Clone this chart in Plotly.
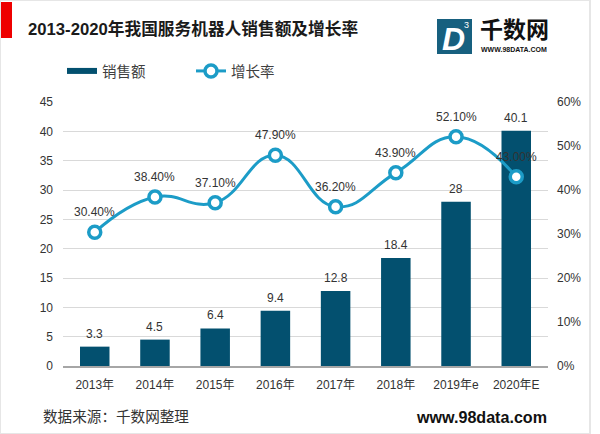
import plotly.graph_objects as go

# -- data -- #
years = ['2013年', '2014年', '2015年', '2016年', '2017年', '2018年', '2019年e', '2020年E']
sales = [3.3, 4.5, 6.4, 9.4, 12.8, 18.4, 28, 40.1]
growth = [30.4, 38.4, 37.1, 47.9, 36.2, 43.9, 52.1, 43.0]
sales_ticks = [0, 5, 10, 15, 20, 25, 30, 35, 40, 45]
growth_ticks = [0, 10, 20, 30, 40, 50, 60]

W = 600
H = 434
ML = 63
MR = 52
MT = 102
MB = 68
FONT = 'Liberation Sans, Noto Sans CJK SC'
BAR = '#03506f'
LINE = '#1c9cc7'
TXT = '#333333'

fig = go.Figure()

fig.add_trace(go.Bar(x=years, y=sales, name='销售额', showlegend=False,
                     marker=dict(color=BAR, line=dict(width=0)),
                     width=0.49))

# wide line swatch for the bar series
fig.add_trace(go.Scatter(x=[None], y=[None], name='销售额', mode='lines',
                         line=dict(color=BAR, width=6)))

fig.add_trace(go.Scatter(x=years, y=growth, name='增长率', yaxis='y2',
                         mode='lines+markers',
                         line=dict(color=LINE, width=3, shape='spline', smoothing=1.3),
                         marker=dict(size=12, color='white',
                                     line=dict(color=LINE, width=3.5))))

fig.update_layout(
    width=W, height=H,
    autosize=False,
    paper_bgcolor='white', plot_bgcolor='white',
    font=dict(family=FONT, size=12, color='#404040'),
    margin=dict(l=ML, r=MR, t=MT, b=MB, autoexpand=False),
    showlegend=True,
    legend=dict(orientation='h', x=-1/485, y=(MT-71+264)/264, xanchor='left', yanchor='middle',
                font=dict(size=14.5, color='#404040'),
                itemwidth=30, entrywidth=84, entrywidthmode='pixels',
                traceorder='normal', bgcolor='rgba(0,0,0,0)'),
    xaxis=dict(showgrid=False, showline=True, linecolor='#a6a6a6', linewidth=1.5,
               ticks='', ticklabelstandoff=7, tickfont=dict(size=12, color=TXT)),
    yaxis=dict(range=[0, 45], tickvals=sales_ticks, showgrid=True,
               gridcolor='#d9d9d9', zeroline=False, ticks='', ticklabelstandoff=9,
               tickfont=dict(size=12, color=TXT)),
    yaxis2=dict(range=[0, 60], tickmode='array', tickvals=growth_ticks,
                ticktext=['%d%%' % v for v in growth_ticks],
                overlaying='y', side='right', showgrid=False, zeroline=False,
                ticks='', ticklabelstandoff=8, tickfont=dict(size=12, color=TXT)),
)

def px(x, y):
    # page pixels to paper coordinates
    return (x - ML) / (W - ML - MR), (H - MB - y) / (H - MT - MB)

shapes = []
x0, y0 = px(1, 2)
x1, y1 = px(12, 38)
shapes.append(dict(type='rect', xref='paper', yref='paper', x0=x0, x1=x1, y0=y1, y1=y0,
                   fillcolor='#ee0000', line_width=0))
# logo box
x0, y0 = px(437, 19)
x1, y1 = px(472, 54)
shapes.append(dict(type='rect', xref='paper', yref='paper', x0=x0, x1=x1, y0=y1, y1=y0,
                   fillcolor='#17607f', line_width=0))
# image frame
x0, y0 = px(0, 0)
x1, y1 = px(590, 434)
shapes.append(dict(type='rect', xref='paper', yref='paper', x0=x0, x1=x1, y0=y1, y1=y0,
                   fillcolor='rgba(0,0,0,0)', line=dict(color='#e6e6e6', width=2)))
fig.update_layout(shapes=shapes)

def note(x, y, text, size, color=TXT, anchor='left', family=FONT, bold=False):
    ax, ay = px(x, y)
    if bold:
        text = '<b>' + text + '</b>'
    fig.add_annotation(x=ax, y=ay, xref='paper', yref='paper', text=text, showarrow=False,
                       xanchor=anchor, yanchor='middle', align=anchor,
                       font=dict(size=size, color=color, family=family))

# value labels sit further from the marks than plotly's text positions
for yr, v in zip(years, sales):
    fig.add_annotation(x=yr, y=v, yref='y', text=str(v), showarrow=False,
                       yshift=13, font=dict(size=12, color=TXT))
for yr, v in zip(years, growth):
    fig.add_annotation(x=yr, y=v, yref='y2', text='%.2f%%' % v, showarrow=False,
                       yshift=20, font=dict(size=12, color=TXT))

note(26, 29, '2013-2020年我国服务机器人销售额及增长率', 16.7, '#1a1a1a', bold=True)
note(41, 417, '数据来源：千数网整理', 14.6, TXT)
note(549, 417, 'www.98data.com', 16.1, '#111111', anchor='right', bold=True)
note(453, 39, '<i>D</i>', 32, 'white', anchor='center', family='Liberation Sans', bold=True)
note(466, 25, '3', 9, 'white', anchor='center')
note(514, 30, '千数网', 23, '#111111', anchor='center', bold=True)
note(514, 50, 'WWW.98DATA.COM', 7, '#111111', anchor='center', bold=True)

fig.write_html('out.html', config=dict(displayModeBar=False),
               post_script="document.body.style.margin='0';")
